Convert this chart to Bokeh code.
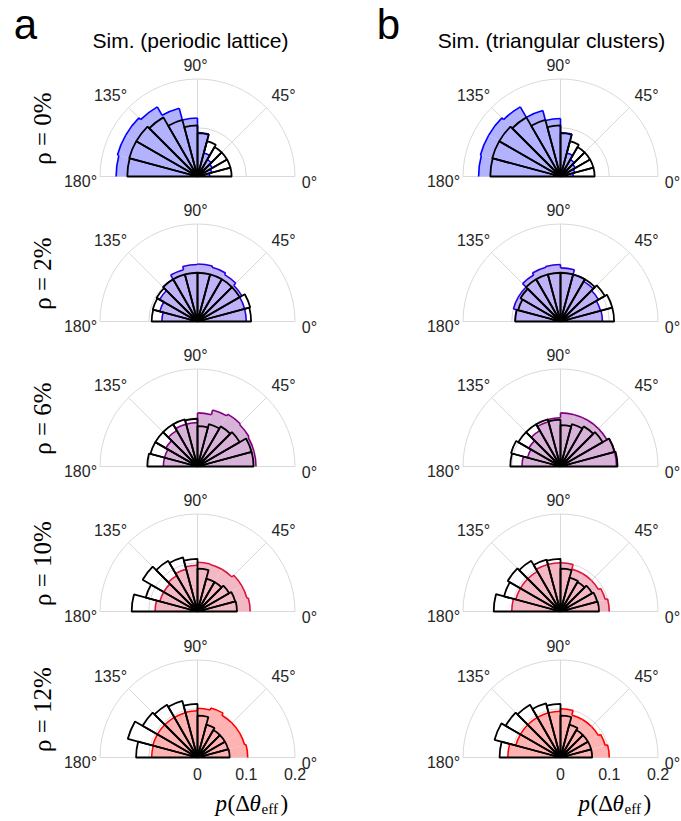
import numpy as np
from bokeh.plotting import figure
from bokeh.models import Range1d
from bokeh.core.properties import value
from bokeh.embed import file_html
from bokeh.resources import INLINE

# ---------------- data ----------------
bin_edges_deg = [0, 15, 30, 45, 60, 75, 90, 105, 120, 135, 150, 165, 180]
rho_labels = ["ρ = 0%", "ρ = 2%", "ρ = 6%", "ρ = 10%", "ρ = 12%"]
col_titles = ["Sim. (periodic lattice)", "Sim. (triangular clusters)"]
panel_letters = ["a", "b"]
angle_ticks = [0, 45, 90, 135, 180]
radial_ticks = [0.1, 0.2]
radial_tick_labels = ["0", "0.1", "0.2"]
radial_tick_values = [0.0, 0.1, 0.2]
r_max = 0.2

# colored (filled) histograms, column a
a_rho0 = [0.025, 0.03, 0.035, 0.04, 0.05, 0.09, 0.12, 0.145, 0.165, 0.17, 0.17, 0.167]
a_rho2 = [0.10, 0.10, 0.105, 0.111, 0.115, 0.118, 0.117, 0.11, 0.10, 0.09, 0.08, 0.073]
a_rho6 = [0.12, 0.12, 0.122, 0.124, 0.12, 0.11, 0.09, 0.09, 0.085, 0.075, 0.07, 0.07]
a_rho10 = [0.108, 0.105, 0.105, 0.10, 0.10, 0.101, 0.095, 0.09, 0.085, 0.08, 0.08, 0.087]
a_rho12 = [0.103, 0.10, 0.10, 0.10, 0.105, 0.101, 0.096, 0.095, 0.095, 0.095, 0.095, 0.094]
# reference (black outline) histograms, column a
a_ref0 = [0.07, 0.07, 0.07, 0.07, 0.075, 0.089, 0.105, 0.12, 0.14, 0.145, 0.145, 0.144]
a_ref2 = [0.11, 0.112, 0.10, 0.10, 0.10, 0.10, 0.10, 0.10, 0.10, 0.097, 0.095, 0.094]
a_ref6 = [0.115, 0.115, 0.10, 0.095, 0.09, 0.083, 0.098, 0.10, 0.10, 0.10, 0.10, 0.103]
a_ref10 = [0.081, 0.08, 0.075, 0.07, 0.07, 0.088, 0.108, 0.115, 0.12, 0.13, 0.11, 0.135]
a_ref12 = [0.066, 0.065, 0.065, 0.065, 0.07, 0.086, 0.11, 0.12, 0.125, 0.13, 0.148, 0.126]
# column b
b_rho0 = [0.026, 0.03, 0.035, 0.04, 0.05, 0.09, 0.119, 0.14, 0.165, 0.17, 0.17, 0.168]
b_rho2 = [0.086, 0.085, 0.09, 0.095, 0.10, 0.11, 0.117, 0.115, 0.11, 0.10, 0.10, 0.093]
b_rho6 = [0.115, 0.115, 0.11, 0.11, 0.11, 0.11, 0.10, 0.095, 0.085, 0.075, 0.07, 0.079]
b_rho10 = [0.10, 0.095, 0.09, 0.09, 0.09, 0.10, 0.10, 0.10, 0.095, 0.095, 0.095, 0.10]
b_rho12 = [0.10, 0.095, 0.09, 0.09, 0.09, 0.10, 0.095, 0.095, 0.095, 0.095, 0.095, 0.108]
b_ref0 = [0.07, 0.07, 0.07, 0.07, 0.075, 0.089, 0.105, 0.12, 0.14, 0.145, 0.145, 0.144]
b_ref2 = [0.11, 0.11, 0.105, 0.10, 0.10, 0.10, 0.10, 0.10, 0.10, 0.095, 0.09, 0.093]
b_ref6 = [0.117, 0.115, 0.10, 0.095, 0.09, 0.085, 0.096, 0.10, 0.10, 0.10, 0.105, 0.103]
b_ref10 = [0.079, 0.078, 0.075, 0.07, 0.072, 0.088, 0.108, 0.11, 0.12, 0.125, 0.12, 0.137]
b_ref12 = [0.065, 0.065, 0.065, 0.065, 0.07, 0.086, 0.11, 0.115, 0.125, 0.13, 0.14, 0.125]

col_hist = [[a_rho0, a_rho2, a_rho6, a_rho10, a_rho12],
            [b_rho0, b_rho2, b_rho6, b_rho10, b_rho12]]
ref_hist = [[a_ref0, a_ref2, a_ref6, a_ref10, a_ref12],
            [b_ref0, b_ref2, b_ref6, b_ref10, b_ref12]]

row_colors = ["#0000ff", "#2a00e0", "#800080", "#dc143c", "#ff0000"]

# ---------------- layout (pixels) ----------------
W, H = 681, 821
centers_x = [197, 560]
centers_y = [176, 321, 466, 611, 757]
R_PX = 97.5
S = R_PX / r_max  # pixels per probability unit
GRID = "#d9d9d9"


def Y(yp):
    return H - yp


def blend(hexc, a=0.3):
    h = hexc.lstrip("#")
    r, g, b = int(h[0:2], 16), int(h[2:4], 16), int(h[4:6], 16)
    r = round(255 - a * (255 - r)); g = round(255 - a * (255 - g)); b = round(255 - a * (255 - b))
    return "#%02x%02x%02x" % (r, g, b)


p = figure(width=W, height=H, x_range=Range1d(0, W), y_range=Range1d(0, H),
           output_backend="svg", toolbar_location=None,
           x_axis_location=None, y_axis_location=None, min_border=0)
p.xgrid.visible = False
p.ygrid.visible = False
p.outline_line_color = None
p.background_fill_color = "white"
p.border_fill_color = "white"

edges = np.deg2rad(np.array(bin_edges_deg, dtype=float))
starts = edges[:-1]
ends = edges[1:]

SANS = "Liberation Sans"
SERIF = "Liberation Serif"

for c in range(2):
    cx = centers_x[c]
    for r in range(5):
        cy = Y(centers_y[r])
        # --- polar grid ---
        p.arc(x=[cx] * len(radial_ticks), y=[cy] * len(radial_ticks),
              radius=[t * S for t in radial_ticks], start_angle=0, end_angle=np.pi,
              line_color=GRID, line_width=1)
        ang = np.deg2rad(np.array([45, 90, 135], dtype=float))
        p.segment(x0=[cx] * 3, y0=[cy] * 3,
                  x1=list(cx + r_max * S * np.cos(ang)), y1=list(cy + r_max * S * np.sin(ang)),
                  line_color=GRID, line_width=1)
        p.segment(x0=[cx - r_max * S], y0=[cy], x1=[cx + r_max * S], y1=[cy],
                  line_color=GRID, line_width=1)

        # --- colored filled histogram ---
        vals = np.array(col_hist[c][r])
        color = row_colors[r]
        p.wedge(x=[cx] * 12, y=[cy] * 12, radius=list(vals * S),
                start_angle=list(starts), end_angle=list(ends),
                fill_color=blend(color), line_color=None)
        # stairs outline
        p.arc(x=[cx] * 12, y=[cy] * 12, radius=list(vals * S),
              start_angle=list(starts), end_angle=list(ends),
              line_color=color, line_width=1.6)
        b_ang = edges[1:-1]
        r0 = vals[:-1] * S
        r1 = vals[1:] * S
        p.segment(x0=list(cx + r0 * np.cos(b_ang)), y0=list(cy + r0 * np.sin(b_ang)),
                  x1=list(cx + r1 * np.cos(b_ang)), y1=list(cy + r1 * np.sin(b_ang)),
                  line_color=color, line_width=1.6)

        # --- black reference histogram (outline only) ---
        rv = np.array(ref_hist[c][r])
        p.wedge(x=[cx] * 12, y=[cy] * 12, radius=list(rv * S),
                start_angle=list(starts), end_angle=list(ends),
                fill_color=None, line_color="black", line_width=1.8)

        # --- angle labels ---
        lab_off = {0: (112, -6), 45: (86, 81), 90: (-2, 111), 135: (-87, 81), 180: (-117, -5)}
        for a in angle_ticks:
            dx, dy = lab_off[a]
            p.text(x=[cx + dx], y=[cy + dy], text=["%d°" % a],
                   text_font=value(SANS), text_font_size="16px", text_color="#262626",
                   text_align="center", text_baseline="middle")

    # radial tick labels under the bottom row
    cyb = Y(centers_y[-1])
    p.text(x=[cx + v * S for v in radial_tick_values], y=[cyb - 16] * 3, text=radial_tick_labels,
           text_font=value(SANS), text_font_size="16px", text_color="#262626",
           text_align="center", text_baseline="middle")
    # p(Δθ_eff) label
    x0 = cx + 18
    yb = Y(803)
    p.text(x=[x0], y=[yb], text=["p"], text_font=value(SERIF), text_font_style="italic",
           text_font_size="23px", text_align="left", text_baseline="middle")
    p.text(x=[x0 + 12], y=[yb], text=["(Δ"], text_font=value(SERIF),
           text_font_size="23px", text_align="left", text_baseline="middle")
    p.text(x=[x0 + 34], y=[yb], text=["θ"], text_font=value(SERIF), text_font_style="italic",
           text_font_size="23px", text_align="left", text_baseline="middle")
    p.text(x=[x0 + 46], y=[yb - 5], text=["eff"], text_font=value(SERIF),
           text_font_size="15px", text_align="left", text_baseline="middle")
    p.text(x=[x0 + 65], y=[yb], text=[")"], text_font=value(SERIF),
           text_font_size="23px", text_align="left", text_baseline="middle")

# column titles and panel letters
p.text(x=[190, 551], y=[Y(40)] * 2, text=col_titles, text_font=value(SANS),
       text_font_size="21px", text_color="black", text_align="center", text_baseline="middle")
p.text(x=[25, 388], y=[Y(24)] * 2, text=panel_letters, text_font=value(SANS),
       text_font_size="42px", text_color="black", text_align="center", text_baseline="middle")

# row labels
p.text(x=[42] * 5, y=[Y(cyp - 48) for cyp in centers_y], text=rho_labels,
       text_font=value(SERIF), text_font_size="25px", angle=np.pi / 2,
       text_align="center", text_baseline="middle", text_color="black")

open("out.html", "w").write(file_html(p, INLINE))
